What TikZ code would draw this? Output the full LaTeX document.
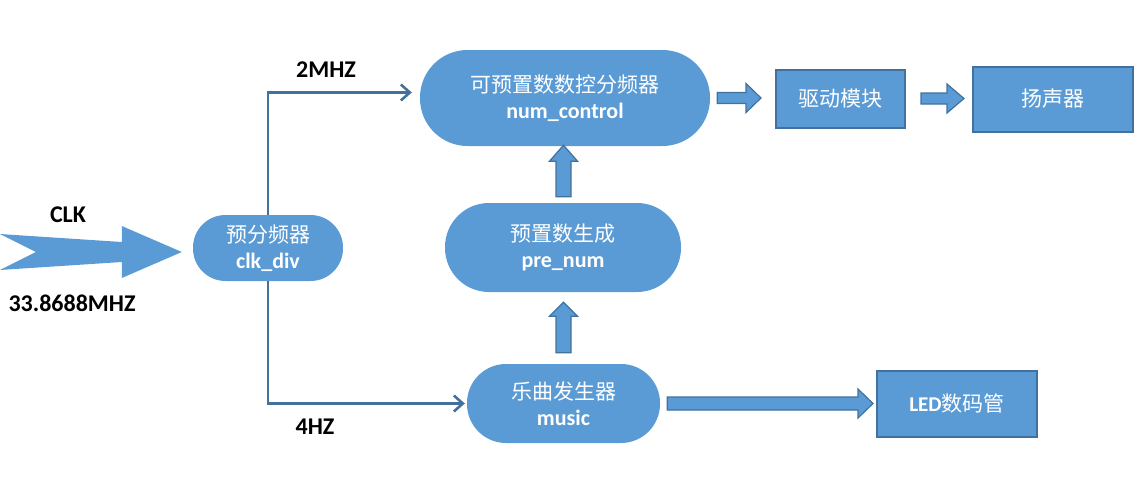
\documentclass[tikz,border=0pt]{standalone}
\usepackage{fontspec}
\setmainfont{Carlito}
\newfontfamily\cjk{Noto Sans CJK SC}
\usetikzlibrary{calc,arrows.meta}
\definecolor{bfill}{RGB}{91,155,213}
\definecolor{bline}{RGB}{65,113,156}
\tikzset{
  blockarrow/.style={fill=bfill,draw=bline,line width=1.2pt,line join=miter},
  rnode/.style={fill=bfill,draw=none,text=white,align=center,inner sep=0pt,
    font=\fontsize{21}{26}\selectfont},
  bnode/.style={fill=bfill,draw=bline,line width=2pt,text=white,align=center,inner sep=0pt,
    font=\fontsize{21}{26}\selectfont},
  conn/.style={draw=bline,line width=2.8pt,-{Straight Barb[length=9pt,width=16pt,line width=2.6pt]}},
  lbl/.style={font=\fontsize{24}{28}\selectfont\bfseries,text=black,inner sep=0pt}
}
% horizontal block arrow: start, end, shaft half width, head half width, head length
\newcommand{\hblk}[5]{%
  \path[blockarrow] let \p1=#1, \p2=#2 in
    (\x1,\y1+#3pt) -- (\x2-#5pt,\y1+#3pt) -- (\x2-#5pt,\y1+#4pt) -- (\x2,\y1)
    -- (\x2-#5pt,\y1-#4pt) -- (\x2-#5pt,\y1-#3pt) -- (\x1,\y1-#3pt) -- cycle;}
% vertical (upward) block arrow: start (bottom), end (tip), shaft half, head half, head length
\newcommand{\vblk}[5]{%
  \path[blockarrow] let \p1=#1, \p2=#2 in
    (\x1-#3pt,\y1) -- (\x1-#3pt,\y2-#5pt) -- (\x1-#4pt,\y2-#5pt) -- (\x1,\y2)
    -- (\x1+#4pt,\y2-#5pt) -- (\x1+#3pt,\y2-#5pt) -- (\x1+#3pt,\y1) -- cycle;}
\newcommand{\en}[1]{{\fontsize{22}{26}\selectfont\bfseries #1}}
\begin{document}
\begin{tikzpicture}[x=1pt,y=1pt]
\useasboundingbox (0,0) rectangle (1145,-477);

% nodes
\node[rnode,minimum width=150pt,minimum height=66pt,rounded corners=32.5pt] (clk) at (268,-248)
  {{\cjk 预分频器}\\\en{clk\_div}};
\node[rnode,minimum width=290pt,minimum height=96pt,rounded corners=47.5pt] (numc) at (565,-98)
  {{\cjk 可预置数数控分频器}\\\en{num\_control}};
\node[rnode,minimum width=236pt,minimum height=89pt,rounded corners=44pt] (pre) at (563,-247.5)
  {{\cjk 预置数生成}\\\en{pre\_num}};
\node[rnode,minimum width=193pt,minimum height=79pt,rounded corners=39pt] (music) at (563.5,-403.5)
  {{\cjk 乐曲发生器}\\\en{music}};
\node[bnode,minimum width=129pt,minimum height=58pt] (drive) at (840.5,-98.5) {\cjk 驱动模块};
\node[bnode,minimum width=160pt,minimum height=65pt] (spk) at (1053,-99) {\cjk 扬声器};
\node[bnode,minimum width=160pt,minimum height=66pt] (led) at (957,-403.5)
  {\textbf{LED}{\cjk 数码管}};

% labels
\node[lbl] (l2m) at (326,-70) {2MHZ};
\node[lbl] (lclk) at (68,-215) {CLK};
\node[lbl] (lfreq) at (72,-303) {33.8688MHZ};
\node[lbl] (l4h) at (315,-427) {4HZ};

% CLK input arrow
\coordinate (ctip) at ($(clk.west)+(-11,-4)$);
\fill[bfill] let \p1=(ctip) in
  (\x1-182pt,\y1+18pt) -- (\x1-60pt,\y1+10pt) -- (\x1-60pt,\y1+26pt) -- (\x1,\y1)
  -- (\x1-60pt,\y1-26pt) -- (\x1-60pt,\y1-10pt) -- (\x1-182pt,\y1-18pt)
  -- (\x1-146pt,\y1) -- cycle;

% connectors
\coordinate (t1) at ($(numc.west)+(-8,5.5)$);
\draw[conn] (clk.north) |- (t1);
\coordinate (t2) at ($(music.west)+(-2,0)$);
\draw[conn] (clk.south) |- (t2);

% block arrows
\hblk{($(numc.east)+(7,0)$)}{($(drive.west)+(-14,0)$)}{5.5}{14.5}{15}
\hblk{($(drive.east)+(15,0)$)}{($(spk.west)+(-8,0)$)}{5.5}{14.5}{17}
\hblk{($(music.east)+(7,0)$)}{($(led.west)+(-3,0)$)}{6.5}{14.5}{15}
\vblk{($(pre.north)+(0.5,6)$)}{($(numc.south)+(-1.5,1)$)}{7.5}{14}{16}
\vblk{($(music.north)+(0,11)$)}{($(pre.south)+(0.5,-10)$)}{7.5}{14}{14}
\end{tikzpicture}
\end{document}
